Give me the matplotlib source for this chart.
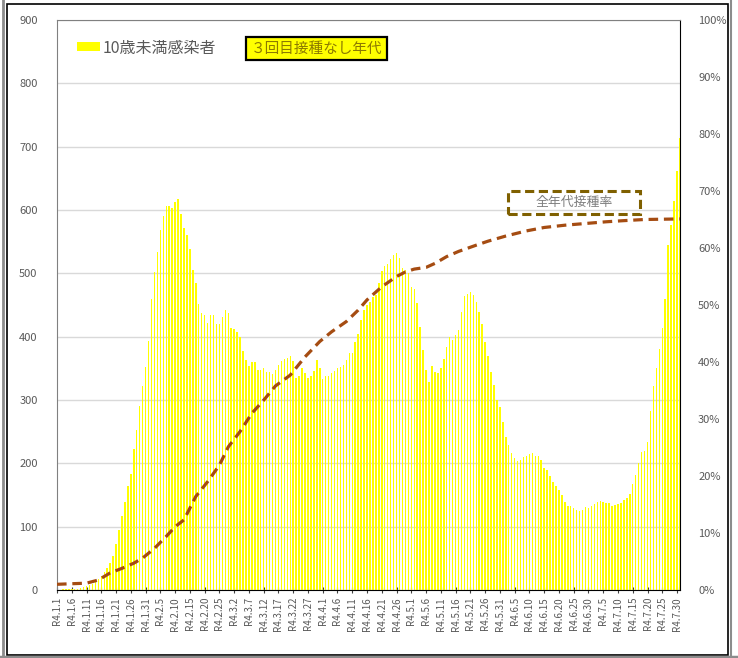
import numpy as np
import pandas as pd
import matplotlib
matplotlib.use("Agg")
import matplotlib.pyplot as plt
from matplotlib.patches import Rectangle
from matplotlib.lines import Line2D

plt.rcParams['font.family'] = ['Noto Sans CJK JP', 'DejaVu Sans']

# daily cases, under-10s, R4.1.1 .. R4.7.31
cases = [
    1, 0, 1, 1, 2, 1, 2, 2, 3, 4, 6, 8, 10, 13, 17, 22, 28, 35,
    42, 53, 73, 94, 117, 139, 164, 183, 222, 253, 291, 322, 352, 393, 459, 502,
    533, 568, 591, 606, 606, 603, 613, 617, 594, 571, 560, 539, 506, 484, 452,
    437, 434, 422,
    434, 434, 420, 420, 431, 442, 437, 413, 412, 407, 400, 377, 363, 354, 360,
    360, 347, 347, 351, 345, 345, 341, 347, 355, 361, 364, 367, 369, 361, 334,
    338, 351, 342, 334, 338, 346, 363, 351, 333, 338, 338, 342, 346, 351, 352,
    355, 363, 374, 374, 392, 405,
    426, 442, 450, 455, 462, 466, 484, 504, 512, 515, 522, 529, 532, 524, 508,
    505, 501, 479, 475, 453, 416, 379, 347, 329, 353, 345, 343, 350, 364, 384,
    399, 394, 403, 411, 439, 464, 468, 470, 466, 455, 439, 420, 391, 369, 344,
    324, 300, 289, 265, 242, 229,
    216, 208, 203, 205, 210, 212, 214, 216, 212, 212, 205, 192, 189, 180, 171,
    164, 158, 150, 139, 133, 132, 129, 126, 124, 126, 131, 129, 133, 136, 139,
    141, 139, 137, 138, 133, 134, 136, 137, 142, 146, 152, 167, 182, 200, 218,
    220, 233, 282, 322, 350, 380, 414, 459, 545, 576, 615, 661, 713,
]

# all-ages 3rd dose rate (%), read at these day indices
rate_day = [0, 10, 14, 18, 22, 26, 29, 33, 37, 40, 43, 47, 51, 55, 58, 62, 66,
            70, 74, 79, 84, 89, 93, 98, 102, 105, 110, 115, 118, 121, 125, 128,
            132, 136, 142, 146, 152, 159, 165, 172, 179, 186, 192, 199, 211]
rate_pct = [1.0, 1.2, 1.75, 3.0, 3.8, 4.7, 5.6, 7.3, 9.4, 11.1, 12.3, 16.4,
            19.0, 21.9, 25.1, 27.8, 31.0, 33.3, 35.8, 37.7, 40.9, 43.6, 45.3,
            47.1, 49.1, 50.9, 53.2, 55.0, 55.8, 56.3, 56.6, 57.3, 58.5, 59.4,
            60.5, 61.2, 62.1, 63.0, 63.6, 64.0, 64.3, 64.6, 64.8, 65.0, 65.1]

dates = pd.date_range("2022-01-01", "2022-07-31")
date_labels = [f"R4.{d.month}.{d.day}" for d in dates]

W, H = 738, 658
fig = plt.figure(figsize=(W / 100, H / 100), dpi=100)


def fx(px):
    return px / W


def fy(py):
    return 1 - py / H


# outer frame
fig.patches.append(Rectangle((fx(7), fy(655)), fx(721), 651 / H, transform=fig.transFigure,
                             fill=False, ec='black', lw=1.2))
fig.lines.append(Line2D([fx(2.5), fx(2.5)], [fy(0), fy(658)], transform=fig.transFigure,
                        color='#8c8c8c', lw=2.0))
fig.lines.append(Line2D([fx(0), fx(738)], [fy(657), fy(657)], transform=fig.transFigure,
                        color='#8c8c8c', lw=2.5))
fig.lines.append(Line2D([fx(730.5), fx(730.5)], [fy(0), fy(658)], transform=fig.transFigure,
                        color='#8c8c8c', lw=1.5))

ax = fig.add_axes([fx(57), fy(590), 623 / W, 570 / H])
x = np.arange(len(cases))
bars = ax.bar(x, cases, width=0.5, color='#FFFF00', lw=0, zorder=2, label='10歳未満感染者')
ax.set_xlim(0, len(cases) - 1)
ax.set_ylim(0, 900)
ax.set_yticks(range(0, 901, 100))
ax.grid(axis='y', color='#d9d9d9', lw=1, zorder=0)
ax.set_axisbelow(True)
ax.tick_params(axis='y', length=0, pad=14, labelsize=8, labelcolor='#595959')
ax.set_xticks(x[::5])
ax.set_xticklabels(date_labels[::5], rotation=90, fontsize=7, color='#595959')
ax.tick_params(axis='x', length=4, direction='inout', color='#404040', pad=3)
for s in ['left', 'top']:
    ax.spines[s].set_color('#808080')
ax.spines['bottom'].set_color('black')
ax.spines['right'].set_color('black')

ax2 = ax.twinx()
ax2.plot(rate_day, rate_pct, color='#A54C12', lw=2.3, ls=(0, (3, 1.8)), zorder=3)
ax2.set_ylim(0, 100)
ax2.set_yticks(range(0, 101, 10))
ax2.set_yticklabels([f"{v}%" for v in range(0, 101, 10)])
ax2.tick_params(axis='y', length=0, pad=13, labelsize=8, labelcolor='#595959')
for s in ax2.spines.values():
    s.set_visible(False)

leg = ax.legend(handles=[bars], loc='center left', bbox_to_anchor=(fx(77), fy(48)),
                bbox_transform=fig.transFigure, frameon=False, fontsize=11.5,
                handlelength=1.45, handleheight=0.5, handletextpad=0.15,
                borderpad=0, borderaxespad=0)
for t in leg.get_texts():
    t.set_color('#595959')

fig.text(fx(316.5), fy(48.5), '３回目接種なし年代', ha='center', va='center',
         fontsize=10.5, color='#8C7A00',
         bbox=dict(boxstyle='square,pad=0.3', fc='#FFFF00', ec='black', lw=1.6))

fig.patches.append(Rectangle((fx(508), fy(214)), 132 / W, 23 / H, transform=fig.transFigure,
                             fill=False, ec='#7F6000', lw=2.2, ls=(0, (3, 1.5))))
fig.text(fx(574), fy(202.5), '全年代接種率', ha='center', va='center',
         fontsize=9.3, color='#7f7f7f')

fig.savefig('out.png', dpi=100)
